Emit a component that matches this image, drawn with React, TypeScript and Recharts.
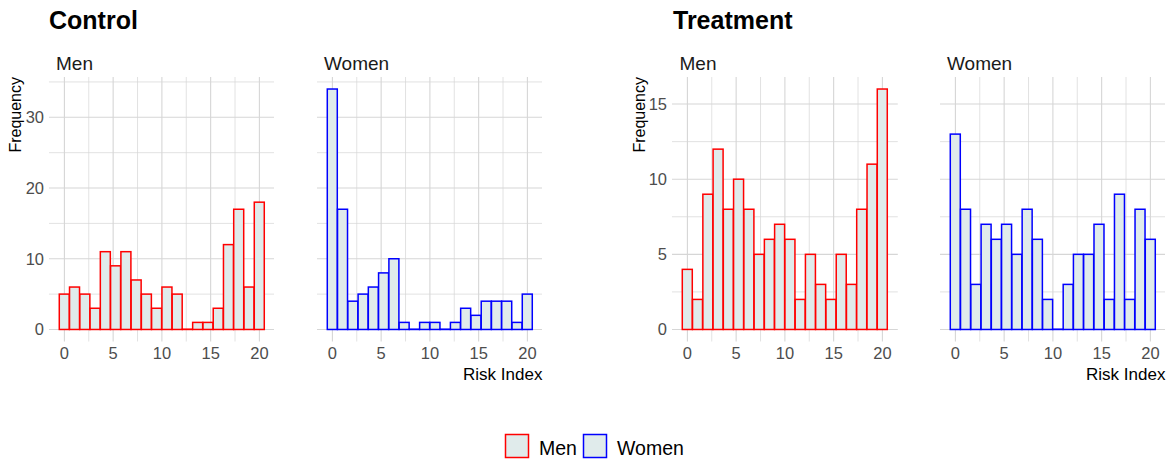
import { Bar, BarChart, CartesianGrid, XAxis, YAxis } from "recharts";

// bin centres (20 bins over 0..20)
const binCenters = [
  0, 1.05, 2.11, 3.16, 4.21, 5.26, 6.32, 7.37, 8.42, 9.47, 10.53, 11.58, 12.63,
  13.68, 14.74, 15.79, 16.84, 17.89, 18.95, 20,
];

const controlMen = [5, 6, 5, 3, 11, 9, 11, 7, 5, 3, 6, 5, 0, 1, 1, 3, 12, 17, 6, 18];
const controlWomen = [34, 17, 4, 5, 6, 8, 10, 1, 0, 1, 1, 0, 1, 3, 2, 4, 4, 4, 1, 5];
const treatmentMen = [4, 2, 9, 12, 8, 10, 8, 5, 6, 7, 6, 2, 5, 3, 2, 5, 3, 8, 11, 16];
const treatmentWomen = [13, 8, 3, 7, 6, 7, 5, 8, 6, 2, 0, 3, 5, 5, 7, 2, 9, 2, 8, 6];

const xTicks = [0, 5, 10, 15, 20];
const xMinor = [2.5, 7.5, 12.5, 17.5];
const controlYTicks = [0, 10, 20, 30];
const controlYMinor = [5, 15, 25, 35];
const treatmentYTicks = [0, 5, 10, 15];
const treatmentYMinor = [2.5, 7.5, 12.5];

const FILL = "#E0EBEB";
const GRID = "#D6D6D6";
const FONT = "'Liberation Sans', Arial, Helvetica, sans-serif";

const PLOT_W = 225.8;
const PLOT_H = 264.5;
const AXIS_W = 40;
const TOP = 76.5;

type PanelProps = {
  counts: number[];
  color: string;
  left: number;
  yDomain: [number, number];
  yTicks: number[];
  yMinor: number[];
  showY: boolean;
};

const HistBar = (props: any) => {
  const { x, y, width, height, stroke } = props;
  const h = height ?? 0;
  return (
    <rect
      x={x}
      y={h < 0 ? y + h : y}
      width={width}
      height={Math.abs(h)}
      fill={FILL}
      stroke={stroke}
      strokeWidth={1.5}
    />
  );
};

const Panel = ({ counts, color, left, yDomain, yTicks, yMinor, showY }: PanelProps) => {
  const data = binCenters.map((x, i) => ({ x, count: counts[i] }));
  const w = PLOT_W + (showY ? AXIS_W : 0);
  return (
    <div style={{ position: "absolute", left: left - (showY ? AXIS_W : 0), top: TOP }}>
      <BarChart
        width={w}
        height={PLOT_H + 30}
        data={data}
        margin={{ top: 0, right: 0, bottom: 0, left: 0 }}
        barCategoryGap={0}
        barGap={0}
      >
        <CartesianGrid
          stroke={GRID}
          strokeWidth={0.7}
          horizontalValues={yMinor}
          verticalValues={xMinor}
          syncWithTicks
        />
        <CartesianGrid
          stroke={GRID}
          strokeWidth={1.1}
          horizontalValues={yTicks}
          verticalValues={xTicks}
          syncWithTicks
        />
        <XAxis
          type="number"
          dataKey="x"
          domain={[-1.58, 21.58]}
          ticks={xTicks}
          allowDataOverflow
          axisLine={false}
          tickLine={false}
          tickSize={0}
          tickMargin={6}
          height={30}
          tick={{ fill: "#4D4D4D", fontSize: 16.5, fontFamily: FONT }}
        />
        <YAxis
          hide={!showY}
          domain={yDomain}
          ticks={yTicks}
          allowDataOverflow
          axisLine={false}
          tickLine={false}
          tickSize={0}
          tickMargin={5}
          width={AXIS_W}
          tick={{ fill: "#4D4D4D", fontSize: 16.5, fontFamily: FONT }}
        />
        <Bar
          dataKey="count"
          stroke={color}
          fill={FILL}
          shape={HistBar}
          minPointSize={0.3}
          isAnimationActive={false}
        />
      </BarChart>
    </div>
  );
};

export default function App() {
  return (
    <div
      style={{
        position: "absolute",
        left: 0,
        top: 0,
        width: 1176,
        height: 459,
        background: "#fff",
        fontFamily: FONT,
        overflow: "hidden",
      }}
    >
      <Panel counts={controlMen} color="#FF0000" left={48.6} yDomain={[-1.7, 35.7]} yTicks={controlYTicks} yMinor={controlYMinor} showY />
      <Panel counts={controlWomen} color="#0000FF" left={316.6} yDomain={[-1.7, 35.7]} yTicks={controlYTicks} yMinor={controlYMinor} showY={false} />
      <Panel counts={treatmentMen} color="#FF0000" left={672} yDomain={[-0.8, 16.8]} yTicks={treatmentYTicks} yMinor={treatmentYMinor} showY />
      <Panel counts={treatmentWomen} color="#0000FF" left={939.6} yDomain={[-0.8, 16.8]} yTicks={treatmentYTicks} yMinor={treatmentYMinor} showY={false} />

      <svg
        width={1176}
        height={459}
        style={{ position: "absolute", left: 0, top: 0, pointerEvents: "none" }}
        fontFamily={FONT}
      >
        <text x={49} y={29} fontSize={25} fontWeight="bold" fill="#000">Control</text>
        <text x={673} y={29} fontSize={25} fontWeight="bold" fill="#000">Treatment</text>

        <text x={56} y={70} fontSize={19} fill="#1A1A1A">Men</text>
        <text x={324} y={70} fontSize={19} fill="#1A1A1A">Women</text>
        <text x={679.5} y={70} fontSize={19} fill="#1A1A1A">Men</text>
        <text x={947} y={70} fontSize={19} fill="#1A1A1A">Women</text>

        <text transform="translate(21,77) rotate(-90)" textAnchor="end" fontSize={16} fill="#000">Frequency</text>
        <text transform="translate(645,77) rotate(-90)" textAnchor="end" fontSize={16} fill="#000">Frequency</text>

        <text x={542.4} y={380} textAnchor="end" fontSize={17} fill="#000">Risk Index</text>
        <text x={1165.4} y={380} textAnchor="end" fontSize={17} fill="#000">Risk Index</text>

        <rect x={505.5} y={434.5} width={23} height={23} fill={FILL} stroke="#FF0000" strokeWidth={1.5} />
        <text x={539} y={455} fontSize={19.5} fill="#000">Men</text>
        <rect x={583.5} y={434.5} width={23} height={23} fill={FILL} stroke="#0000FF" strokeWidth={1.5} />
        <text x={617} y={455} fontSize={19.5} fill="#000">Women</text>
      </svg>
    </div>
  );
}
